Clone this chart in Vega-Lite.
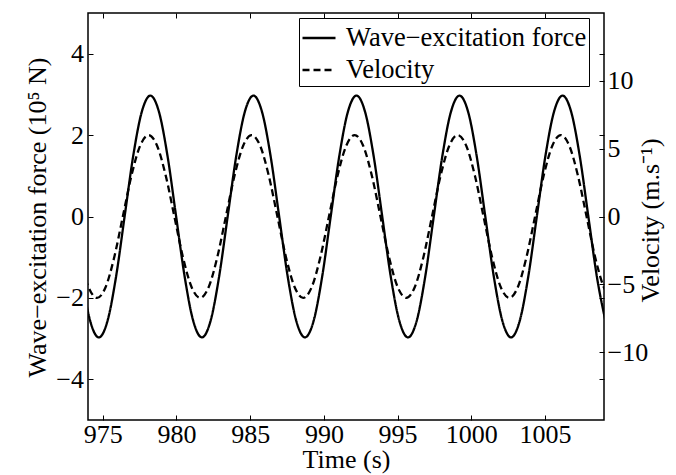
{
  "$schema": "https://vega.github.io/schema/vega-lite/v6.json",
  "width": 516,
  "height": 407,
  "autosize": {"type": "none"},
  "padding": {"left": 88, "top": 13, "right": 72, "bottom": 55},
  "background": "white",
  "config": {
    "font": "Liberation Serif",
    "view": {"stroke": "black", "strokeWidth": 1.5},
    "axis": {
      "domain": false,
      "grid": false,
      "tickColor": "black",
      "tickSize": -5,
      "tickWidth": 1,
      "labelFont": "Liberation Serif",
      "labelFontSize": 26,
      "labelColor": "black",
      "titleFont": "Liberation Serif",
      "titleFontSize": 26,
      "titleFontWeight": "normal",
      "titleColor": "black",
      "labelFlush": false,
      "labelOverlap": false
    }
  },
  "data": {
    "values": [
      {"t": 973.570, "f": -1.485},
      {"t": 974.153, "f": -2.572},
      {"t": 974.735, "f": -2.97},
      {"t": 975.318, "f": -2.572},
      {"t": 975.9, "f": -1.485},
      {"t": 976.483, "f": 0.0},
      {"t": 977.065, "f": 1.485},
      {"t": 977.648, "f": 2.572},
      {"t": 978.23, "f": 2.97},
      {"t": 978.813, "f": 2.572},
      {"t": 979.395, "f": 1.485},
      {"t": 979.978, "f": 0.0},
      {"t": 980.56, "f": -1.485},
      {"t": 981.143, "f": -2.572},
      {"t": 981.725, "f": -2.97},
      {"t": 982.308, "f": -2.572},
      {"t": 982.89, "f": -1.485},
      {"t": 983.473, "f": 0.0},
      {"t": 984.055, "f": 1.485},
      {"t": 984.638, "f": 2.572},
      {"t": 985.22, "f": 2.97},
      {"t": 985.803, "f": 2.572},
      {"t": 986.385, "f": 1.485},
      {"t": 986.968, "f": 0.0},
      {"t": 987.55, "f": -1.485},
      {"t": 988.133, "f": -2.572},
      {"t": 988.715, "f": -2.97},
      {"t": 989.298, "f": -2.572},
      {"t": 989.88, "f": -1.485},
      {"t": 990.463, "f": 0.0},
      {"t": 991.045, "f": 1.485},
      {"t": 991.628, "f": 2.572},
      {"t": 992.21, "f": 2.97},
      {"t": 992.793, "f": 2.572},
      {"t": 993.375, "f": 1.485},
      {"t": 993.958, "f": 0.0},
      {"t": 994.54, "f": -1.485},
      {"t": 995.123, "f": -2.572},
      {"t": 995.705, "f": -2.97},
      {"t": 996.288, "f": -2.572},
      {"t": 996.87, "f": -1.485},
      {"t": 997.453, "f": 0.0},
      {"t": 998.035, "f": 1.485},
      {"t": 998.618, "f": 2.572},
      {"t": 999.2, "f": 2.97},
      {"t": 999.783, "f": 2.572},
      {"t": 1000.365, "f": 1.485},
      {"t": 1000.948, "f": 0.0},
      {"t": 1001.53, "f": -1.485},
      {"t": 1002.113, "f": -2.572},
      {"t": 1002.695, "f": -2.97},
      {"t": 1003.278, "f": -2.572},
      {"t": 1003.86, "f": -1.485},
      {"t": 1004.443, "f": 0.0},
      {"t": 1005.025, "f": 1.485},
      {"t": 1005.608, "f": 2.572},
      {"t": 1006.19, "f": 2.97},
      {"t": 1006.773, "f": 2.572},
      {"t": 1007.355, "f": 1.485},
      {"t": 1007.938, "f": 0.0},
      {"t": 1008.52, "f": -1.485},
      {"t": 1009.103, "f": -2.572},
      {"t": 973.450, "v": -3.0},
      {"t": 974.033, "v": -5.196},
      {"t": 974.615, "v": -6.0},
      {"t": 975.198, "v": -5.196},
      {"t": 975.78, "v": -3.0},
      {"t": 976.363, "v": 0.0},
      {"t": 976.945, "v": 3.0},
      {"t": 977.528, "v": 5.196},
      {"t": 978.11, "v": 6.0},
      {"t": 978.693, "v": 5.196},
      {"t": 979.275, "v": 3.0},
      {"t": 979.858, "v": 0.0},
      {"t": 980.44, "v": -3.0},
      {"t": 981.023, "v": -5.196},
      {"t": 981.605, "v": -6.0},
      {"t": 982.188, "v": -5.196},
      {"t": 982.77, "v": -3.0},
      {"t": 983.353, "v": 0.0},
      {"t": 983.935, "v": 3.0},
      {"t": 984.518, "v": 5.196},
      {"t": 985.1, "v": 6.0},
      {"t": 985.683, "v": 5.196},
      {"t": 986.265, "v": 3.0},
      {"t": 986.848, "v": 0.0},
      {"t": 987.43, "v": -3.0},
      {"t": 988.013, "v": -5.196},
      {"t": 988.595, "v": -6.0},
      {"t": 989.178, "v": -5.196},
      {"t": 989.76, "v": -3.0},
      {"t": 990.343, "v": 0.0},
      {"t": 990.925, "v": 3.0},
      {"t": 991.508, "v": 5.196},
      {"t": 992.09, "v": 6.0},
      {"t": 992.673, "v": 5.196},
      {"t": 993.255, "v": 3.0},
      {"t": 993.838, "v": 0.0},
      {"t": 994.42, "v": -3.0},
      {"t": 995.003, "v": -5.196},
      {"t": 995.585, "v": -6.0},
      {"t": 996.168, "v": -5.196},
      {"t": 996.75, "v": -3.0},
      {"t": 997.333, "v": 0.0},
      {"t": 997.915, "v": 3.0},
      {"t": 998.498, "v": 5.196},
      {"t": 999.08, "v": 6.0},
      {"t": 999.663, "v": 5.196},
      {"t": 1000.245, "v": 3.0},
      {"t": 1000.828, "v": 0.0},
      {"t": 1001.41, "v": -3.0},
      {"t": 1001.993, "v": -5.196},
      {"t": 1002.575, "v": -6.0},
      {"t": 1003.158, "v": -5.196},
      {"t": 1003.74, "v": -3.0},
      {"t": 1004.323, "v": 0.0},
      {"t": 1004.905, "v": 3.0},
      {"t": 1005.488, "v": 5.196},
      {"t": 1006.07, "v": 6.0},
      {"t": 1006.653, "v": 5.196},
      {"t": 1007.235, "v": 3.0},
      {"t": 1007.818, "v": 0.0},
      {"t": 1008.4, "v": -3.0},
      {"t": 1008.983, "v": -5.196},
      {"t": 1009.565, "v": -6.0}
    ]
  },
  "layer": [
    {
      "transform": [{"filter": {"field": "f", "valid": true}}],
      "mark": {"type": "line", "color": "black", "strokeWidth": 2.3, "interpolate": "monotone", "clip": true},
      "encoding": {
        "x": {
          "field": "t", "type": "quantitative",
          "scale": {"domain": [974, 1009], "nice": false, "zero": false},
          "axis": {
            "orient": "bottom",
            "values": [975, 980, 985, 990, 995, 1000, 1005],
            "format": "d",
            "labelPadding": 6,
            "title": "Time (s)",
            "titleX": 258,
            "titleY": 47.5,
            "titleAlign": "center",
            "titleBaseline": "alphabetic"
          }
        },
        "y": {
          "field": "f", "type": "quantitative",
          "scale": {"domain": [-5, 5], "nice": false, "zero": false},
          "axis": {
            "orient": "left",
            "values": [-4, -2, 0, 2, 4],
            "format": "d",
            "labelPadding": 9.5,
            "title": "Wave−excitation force (10⁵ N)",
            "titleAngle": 270,
            "titleX": -43,
            "titleY": 204,
            "titleAlign": "center",
            "titleBaseline": "alphabetic"
          }
        },
        "strokeDash": {
          "datum": "Wave−excitation force",
          "type": "nominal",
          "scale": {"domain": ["Wave−excitation force", "Velocity"], "range": [[1, 0], [7, 4]]},
          "legend": {
            "orient": "none",
            "legendX": 211,
            "legendY": 5,
            "title": null,
            "symbolType": "stroke",
            "symbolSize": 1089,
            "symbolStrokeWidth": 2.3,
            "symbolStrokeColor": "black",
            "labelFont": "Liberation Serif",
            "labelFontSize": 26.5,
            "labelColor": "black",
            "labelLimit": 500,
            "labelOffset": 9,
            "padding": 2,
            "rowPadding": 0,
            "strokeColor": "black",
            "fillColor": "white"
          }
        }
      }
    },
    {
      "transform": [{"filter": {"field": "v", "valid": true}}],
      "mark": {"type": "line", "color": "black", "strokeWidth": 2.3, "interpolate": "monotone", "clip": true},
      "encoding": {
        "x": {"field": "t", "type": "quantitative", "axis": null},
        "y": {
          "field": "v", "type": "quantitative",
          "scale": {"domain": [-15, 15], "nice": false, "zero": false},
          "axis": {
            "orient": "right",
            "values": [-10, -5, 0, 5, 10],
            "format": "d",
            "labelPadding": 8,
            "title": "Velocity (m.s⁻¹)",
            "titleAngle": 270,
            "titleX": 54,
            "titleY": 207,
            "titleAlign": "center",
            "titleBaseline": "alphabetic"
          }
        },
        "strokeDash": {"datum": "Velocity", "type": "nominal"}
      }
    },
    {
      "transform": [{"filter": {"field": "f", "valid": true}}],
      "mark": {"type": "line", "color": "black", "opacity": 0, "clip": true},
      "encoding": {
        "x": {
          "field": "t", "type": "quantitative",
          "axis": {"orient": "top", "values": [975, 980, 985, 990, 995, 1000, 1005], "labels": false, "title": null}
        },
        "y": {
          "field": "f", "type": "quantitative",
          "scale": {"domain": [-5, 5], "nice": false, "zero": false},
          "axis": {"orient": "right", "values": [-4, -2, 0, 2, 4], "labels": false, "title": null}
        }
      }
    }
  ],
  "resolve": {
    "scale": {"y": "independent", "x": "shared", "strokeDash": "shared"},
    "axis": {"y": "independent", "x": "independent"},
    "legend": {"strokeDash": "shared"}
  }
}
